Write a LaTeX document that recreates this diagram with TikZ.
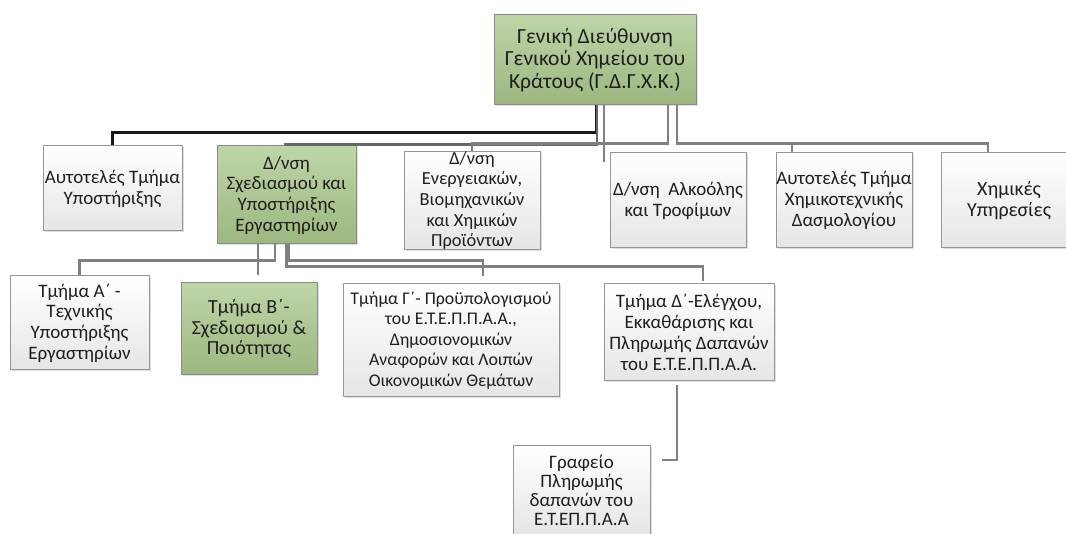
\documentclass[tikz,border=0pt]{standalone}
\usepackage{fontspec}
\setmainfont{Carlito}
\usepackage{xcolor}
\usetikzlibrary{positioning, shadows}
\definecolor{boxgreen}{RGB}{169,199,138}
\definecolor{boxedge}{RGB}{150,150,150}
\definecolor{linegray}{RGB}{128,128,128}

\begin{document}
\begin{tikzpicture}[
    x=1pt, y=-1pt,
    fs/.style 2 args={font=\fontsize{#1}{#2}\selectfont},
    box/.style={draw=boxedge, line width=1pt, align=center, inner sep=0pt,
                top color=white, bottom color=black!10, text=black!88,
                fs={19}{21},
                drop shadow={opacity=0.25, shadow xshift=1.5pt, shadow yshift=-1.5pt}},
    gbox/.style={box, draw=black!45, top color=boxgreen!75!white,
                 bottom color=boxgreen!92!black},
    link/.style={draw=linegray, line width=2.2pt},
    blink/.style={link, draw=black!90}
  ]
  \fill[white] (0,0) rectangle (1066,534);
  \useasboundingbox (0,0) rectangle (1066,534);
  \node[gbox, fs={21.5}{22.5}, minimum width=202pt, minimum height=90pt] (gdgxk) at (595,60)
    {Γενική Διεύθυνση\\Γενικού Χημείου του\\Κράτους (Γ.Δ.Γ.Χ.Κ.)};
  \node[box, minimum width=139pt, minimum height=85pt] (autyp) at (112.5,188.5)
    {Αυτοτελές Τμήμα\\Υποστήριξης};
  \node[gbox, fs={19}{20.7}, minimum width=139pt, minimum height=98pt] (dsxed) at (286.5,195)
    {Δ/νση\\Σχεδιασμού και\\Υποστήριξης\\Εργαστηρίων};
  \node[box, fs={18.4}{20.6}, minimum width=136pt, minimum height=95pt] (dener) at (472,200.5)
    {Δ/νση\\Ενεργειακών,\\Βιομηχανικών\\και Χημικών\\Προϊόντων};
  \node[box, minimum width=136pt, minimum height=95pt] (dalk) at (678,200.5)
    {Δ/νση\ \ Αλκοόλης\\και Τροφίμων};
  \node[box, minimum width=136pt, minimum height=95pt] (autxim) at (844,200.5)
    {Αυτοτελές Τμήμα\\Χημικοτεχνικής\\Δασμολογίου};
  \node[box, fs={20}{21}, minimum width=136pt, minimum height=95pt] (ximyp) at (1009,200.5)
    {Χημικές\\Υπηρεσίες};
  \node[box, fs={19}{20.7}, minimum width=139pt, minimum height=94pt] (tmA) at (79.5,323)
    {Τμήμα Α΄ -\\Τεχνικής\\Υποστήριξης\\Εργαστηρίων};
  \node[gbox, fs={20}{20.5}, minimum width=136pt, minimum height=92pt] (tmB) at (249,329)
    {Τμήμα Β΄-\\Σχεδιασμού \&\\Ποιότητας};
  \node[box, fs={17.8}{20.4}, minimum width=216pt, minimum height=113pt] (tmG) at (451,340.5)
    {Τμήμα Γ΄- Προϋπολογισμού\\του Ε.Τ.Ε.Π.Π.Α.Α.,\\Δημοσιονομικών\\Αναφορών και Λοιπών\\Οικονομικών Θεμάτων};
  \node[box, fs={19}{20.8}, minimum width=170pt, minimum height=97pt] (tmD) at (689,332.5)
    {Τμήμα Δ΄-Ελέγχου,\\Εκκαθάρισης και\\Πληρωμής Δαπανών\\του Ε.Τ.Ε.Π.Π.Α.Α.};
  \node[box, fs={19}{19}, minimum width=137pt, minimum height=88pt] (graf) at (581.5,490)
    {Γραφείο\\Πληρωμής\\δαπανών του\\Ε.Τ.ΕΠ.Π.Α.Α};
  \coordinate (alkend) at (604,162);
  \draw[blink] ([xshift=1pt]gdgxk.south) -- ++(0,27) -| (autyp.north);
  \draw[link, draw=black!60] ([xshift=2pt]gdgxk.south) -- ++(0,39) -| ([xshift=-1.5pt]dsxed.north);
  \draw[link] ([xshift=9pt]gdgxk.south) -- (alkend);
  \draw[link] ([xshift=73pt]gdgxk.south) -- ++(0,38) -| (dener.north);
  \draw[link] ([xshift=82pt]gdgxk.south) -- ++(0,38) -| ([xshift=-52pt]autxim.north);
  \draw[link] ([xshift=82pt]gdgxk.south) -- ++(0,38) -| ([xshift=-21pt]ximyp.north);
  \draw[link] ([xshift=-11.5pt]dsxed.south) -- ++(0,16) -| (tmA.north);
  \draw[link] ([xshift=-28.5pt]dsxed.south) -- ([xshift=9pt,yshift=7pt]tmB.north);
  \draw[link] ([xshift=2.5pt]dsxed.south) -- ++(0,16) -| ([xshift=32pt,yshift=7pt]tmG.north);
  \draw[link] (dsxed.south) -- ++(0,22) -| ([xshift=14pt,yshift=2pt]tmD.north);
  \draw[link] ([xshift=-12pt,yshift=-4pt]tmD.south) |- ([xshift=11pt,yshift=30pt]graf.east);
\end{tikzpicture}
\end{document}
